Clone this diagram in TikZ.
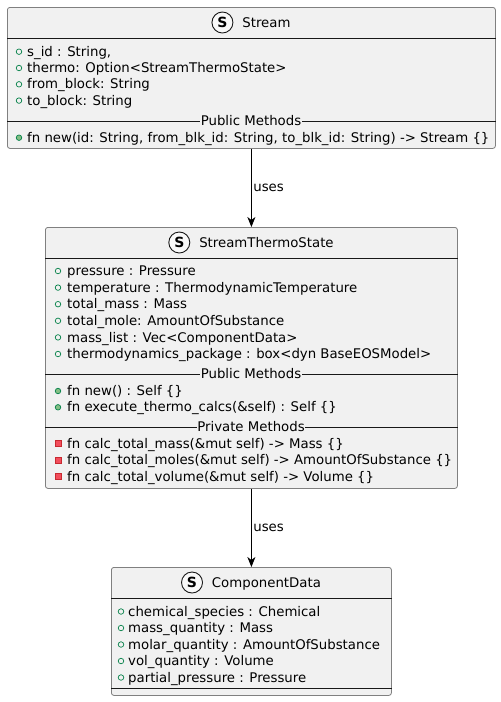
\documentclass[tikz,border=0pt]{standalone}
\usepackage{fontspec}
\setmainfont{DejaVu Sans}
\usetikzlibrary{arrows.meta, positioning}
\definecolor{clsFill}{HTML}{F1F1F1}
\definecolor{clsBdr}{HTML}{181818}
\definecolor{fldGreen}{HTML}{038048}
\definecolor{pubFill}{HTML}{84BE84}
\definecolor{privBdr}{HTML}{C82930}
\definecolor{privFill}{HTML}{F24D5C}
\tikzset{
  % class boxes (struct)
  cls/.style={draw=clsBdr!55, fill=clsFill, rounded corners=2.5pt, line width=0.8pt,
    inner sep=0pt, anchor=north west},
  sepline/.style={draw=clsBdr, line width=0.7pt},
  seplbl/.style={fill=clsFill, inner sep=0.5pt},
  spot/.style={circle, draw=clsBdr, line width=0.9pt, fill=white!60!clsFill,
    minimum size=21pt, inner sep=0pt, font=\fontsize{14}{16}\selectfont\bfseries},
  hdr/.style={inner sep=0pt},
  % member lines and visibility icons
  mem/.style={anchor=base west, inner sep=0pt},
  fld/.style={circle, draw=fldGreen, line width=0.7pt, minimum size=5.5pt, inner sep=0pt},
  pubm/.style={fld, fill=pubFill},
  privm/.style={rectangle, draw=privBdr, line width=0.7pt, fill=privFill,
    minimum size=6pt, inner sep=0pt},
  uses/.style={-{Stealth[length=10pt, width=8pt, inset=3pt]}, line width=0.9pt, black},
  lbl/.style={inner sep=1.5pt},
}
\newcommand\spoticon{\tikz[baseline=(sp.base)]\node[spot] (sp) {S};\hspace{9pt}}

\begin{document}
\begin{tikzpicture}[x=1pt, y=-1pt, font=\fontsize{13.3}{16}\selectfont]
\useasboundingbox[fill=white] (0,0) rectangle (501,702);

% =================== Stream ===================
\node[cls, minimum width=488pt, minimum height=141pt] (stream) at (7,7) {};
\node[hdr] (stream-h) at (251,22.5) {\spoticon Stream};
\draw[sepline] (stream.west |- 0,38) -- (stream.east |- 0,38);
\foreach \t [count=\i] in {{s\_id : String,}, {thermo: Option<StreamThermoState>},
    {from\_block: String}, {to\_block: String}} {
  \node[fld] (st-i\i) at (19, {51.7+16.3*(\i-1)}) {};
  \node[mem] (st-f\i) at (27, {56.3+16.3*(\i-1)}) {\t};
}
\draw[sepline] (stream.west |- 0,121) -- (stream.east |- 0,121);
\node[seplbl] (st-pub) at (251,121) {Public Methods};
\node[pubm] (st-mi1) at (19,137.7) {};
\node[mem] (st-m1) at (27,142.3) {fn new(id: String, from\_blk\_id: String, to\_blk\_id: String) -> Stream \{\}};

% =================== StreamThermoState ===================
\node[cls, minimum width=412pt, minimum height=261pt] (sts) at (45,227) {};
\node[hdr] (sts-h) at (251,242.5) {\spoticon StreamThermoState};
\draw[sepline] (sts.west |- 0,258) -- (sts.east |- 0,258);
\foreach \t [count=\i] in {{pressure : Pressure}, {temperature : ThermodynamicTemperature},
    {total\_mass : Mass}, {total\_mole: AmountOfSubstance}, {mass\_list : Vec<ComponentData>},
    {thermodynamics\_package : box<dyn BaseEOSModel>}} {
  \node[fld] (sts-i\i) at (58, {271+16.6*(\i-1)}) {};
  \node[mem] (sts-f\i) at (67, {275.6+16.6*(\i-1)}) {\t};
}
\draw[sepline] (sts.west |- 0,374) -- (sts.east |- 0,374);
\node[seplbl] (sts-pub) at (251,374) {Public Methods};
\foreach \t [count=\i] in {{fn new() : Self \{\}}, {fn execute\_thermo\_calcs(\&self) : Self \{\}}} {
  \node[pubm] (sts-pi\i) at (58, {391+16.3*(\i-1)}) {};
  \node[mem] (sts-p\i) at (67, {395.6+16.3*(\i-1)}) {\t};
}
\draw[sepline] (sts.west |- 0,427) -- (sts.east |- 0,427);
\node[seplbl] (sts-priv) at (251,427) {Private Methods};
\foreach \t [count=\i] in {{fn calc\_total\_mass(\&mut self) -> Mass \{\}},
    {fn calc\_total\_moles(\&mut self) -> AmountOfSubstance \{\}},
    {fn calc\_total\_volume(\&mut self) -> Volume \{\}}} {
  \node[privm] (sts-qi\i) at (58, {443.5+16.6*(\i-1)}) {};
  \node[mem] (sts-q\i) at (67, {448.1+16.6*(\i-1)}) {\t};
}

% =================== ComponentData ===================
\node[cls, minimum width=280pt, minimum height=128pt] (cd) at (111,567) {};
\node[hdr] (cd-h) at (251,582.5) {\spoticon ComponentData};
\draw[sepline] (cd.west |- 0,598) -- (cd.east |- 0,598);
\foreach \t [count=\i] in {{chemical\_species : Chemical}, {mass\_quantity : Mass},
    {molar\_quantity : AmountOfSubstance}, {vol\_quantity : Volume},
    {partial\_pressure : Pressure}} {
  \node[fld] (cd-i\i) at (121, {611.5+16.5*(\i-1)}) {};
  \node[mem] (cd-f\i) at (128, {616.1+16.5*(\i-1)}) {\t};
}
\draw[sepline] (cd.west |- 0,688) -- (cd.east |- 0,688);

% =================== relations ===================
\draw[uses] (stream.south) -- node[lbl, right] (u1) {uses} (sts.north);
\draw[uses] (sts.south) -- node[lbl, right] (u2) {uses} (cd.north);

\end{tikzpicture}
\end{document}
